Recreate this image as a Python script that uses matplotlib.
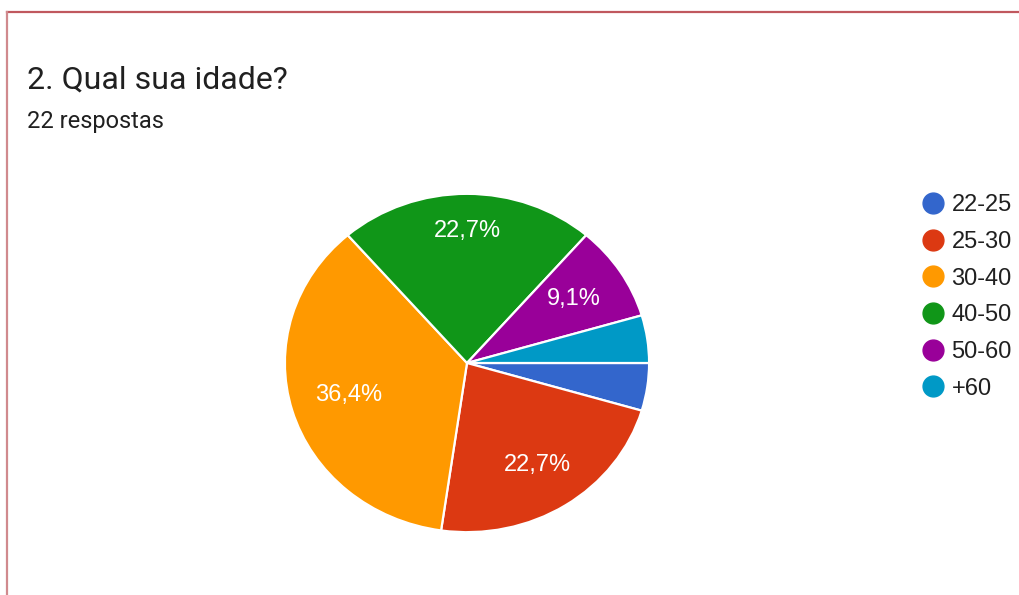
import numpy as np
import matplotlib.pyplot as plt
from matplotlib.lines import Line2D

# respostas por faixa etaria
faixas = ['22-25', '25-30', '30-40', '40-50', '50-60', '+60']
respostas = [1, 5, 8, 5, 2, 1]
cores = ['#3366cc', '#dc3912', '#ff9900', '#109618', '#990099', '#0099c6']
titulo = '2. Qual sua idade?'
subtitulo = '22 respostas'


def rotulo(pct):
    # fatias pequenas ficam sem rotulo
    if pct < 5:
        return ''
    return f'{pct:.1f}%'.replace('.', ',')


fig = plt.figure(figsize=(10.19, 5.95), dpi=100)

# moldura vermelha (topo e lado esquerdo)
fig.add_artist(Line2D([7 / 1019, 1.0], [1 - 12 / 595, 1 - 12 / 595],
                      color='#c0585e', lw=1.6, transform=fig.transFigure))
fig.add_artist(Line2D([7 / 1019, 7 / 1019], [0.0, 1 - 12 / 595],
                      color='#d08a8e', lw=1.6, transform=fig.transFigure))

fig.text(27 / 1019, 1 - 80 / 595, titulo, fontsize=23, family='Roboto',
         color='#202020', va='center', ha='left')
fig.text(27 / 1019, 1 - 122 / 595, subtitulo, fontsize=17, family='Roboto',
         color='#202020', va='center', ha='left')

# eixo da pizza levemente achatado, como no original
ax = fig.add_axes([284 / 1019, 62 / 595, 366 / 1019, 340 / 595])
wedges, textos, pcts = ax.pie(
    respostas, colors=cores, startangle=0, counterclock=False,
    autopct=rotulo, pctdistance=0.72,
    wedgeprops=dict(edgecolor='white', linewidth=1.6),
    textprops=dict(color='white', fontsize=17, family='Liberation Sans'))
ax.set_aspect('auto')
ax.set_xlim(-1.005, 1.005)
ax.set_ylim(-1.005, 1.005)

# distancia radial de cada rotulo
dist = [0.72, 0.72, 0.68, 0.78, 0.70, 0.72]
for w, t, d in zip(wedges, pcts, dist):
    meio = np.deg2rad((w.theta1 + w.theta2) / 2)
    t.set_position((d * np.cos(meio), d * np.sin(meio)))

# legenda com marcadores circulares
marcas = [Line2D([], [], marker='o', linestyle='', markersize=15,
                 markerfacecolor=c, markeredgecolor=c) for c in cores]
leg = fig.legend(marcas, faixas, loc='upper left',
                 bbox_to_anchor=(909 / 1019, 1 - 185 / 595),
                 frameon=False, handletextpad=0.2, labelspacing=0.62,
                 borderaxespad=0, handlelength=1.2,
                 prop=dict(family='Liberation Sans', size=17))
for t in leg.get_texts():
    t.set_color('#202020')

fig.savefig('out.png', dpi=100, facecolor='white')
